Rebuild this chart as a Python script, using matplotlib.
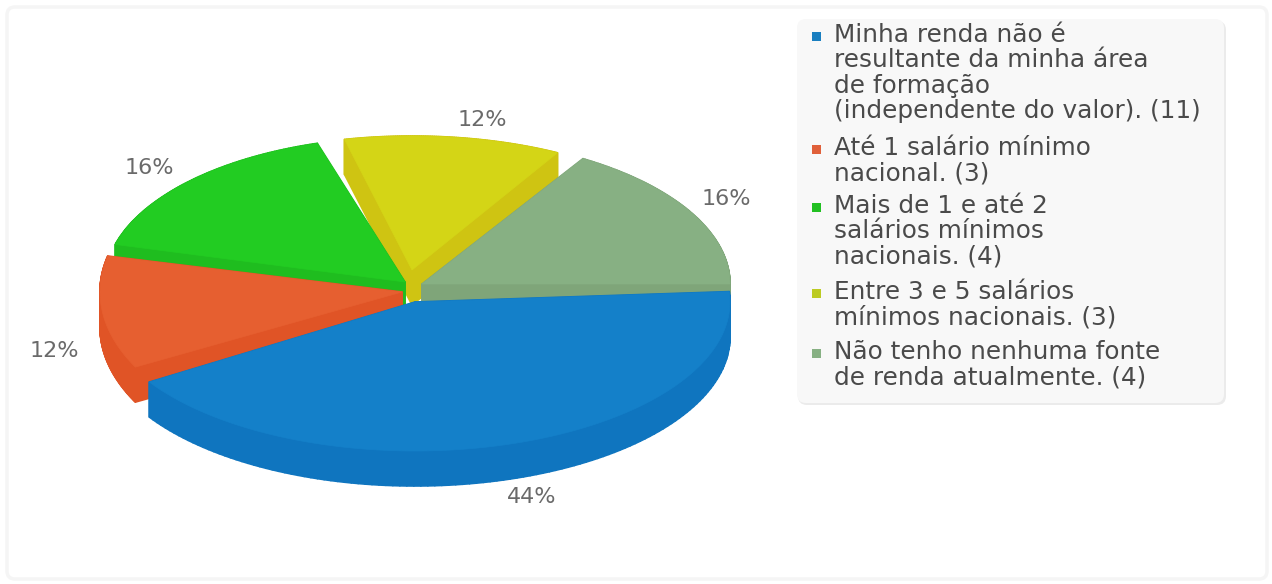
#!/usr/bin/env python3
"""
Pie 3D com fatias destacadas - fontes de renda
"""

import numpy as np
import matplotlib
matplotlib.use('Agg')
import matplotlib.pyplot as plt
from matplotlib.patches import FancyBboxPatch, Polygon, Rectangle
from matplotlib.collections import PolyCollection

# dados
labels = [
    "Minha renda não é\nresultante da minha área\nde formação\n(independente do valor). (11)",
    "Até 1 salário mínimo\nnacional. (3)",
    "Mais de 1 e até 2\nsalários mínimos\nnacionais. (4)",
    "Entre 3 e 5 salários\nmínimos nacionais. (3)",
    "Não tenho nenhuma fonte\nde renda atualmente. (4)",
]
values = [11, 3, 4, 3, 4]

# estilo de cada fatia, na ordem dos dados
top_colors = ['#1480c9', '#e65f30', '#22cc22', '#d4d516', '#87b083']
side_colors = ['#0f75bf', '#e05426', '#1fbd1f', '#cfc412', '#7fa579']
legend_colors = ['#1a7fc0', '#e0603a', '#22c022', '#bccb22', '#87b083']
apex = [(415, 302), (402, 292), (405, 282), (412, 270), (422, 284)]
radii = [(315, 149), (302, 160), (300, 145), (300, 134), (308, 147)]
# a projecao do original desloca um pouco os angulos
angle_shift = [(-4, -10.9), (-6.4, -8.6), (-6.6, -6.2), (-2.2, -3.4), (-0.9, 0)]
label_pos = [(532, 497), (54, 351), (149, 168), (482, 120), (726, 199)]
legend_y = [36, 149, 207, 293, 353]
draw_order = [3, 2, 4, 1, 0]
DEPTH = 35

fig = plt.figure(figsize=(12.72, 5.84), dpi=100)
ax = fig.add_axes([0, 0, 1, 1])
ax.set_xlim(0, 1272)
ax.set_ylim(584, 0)
ax.axis('off')

# moldura
ax.add_patch(FancyBboxPatch((7, 7), 1260, 572, boxstyle='round,pad=0,rounding_size=8',
                            fc='white', ec='#f5f5f5', lw=2.5))


def wedge_outline(center, rx, ry, t0, t1):
    t = np.radians(np.linspace(t0, t1, 120))
    x = center[0] + rx * np.cos(t)
    y = center[1] + ry * np.sin(t)
    return np.vstack([[center], np.column_stack([x, y])])


total = sum(values)
edges = np.concatenate([[0], np.cumsum(values)]) / total * 360

for i in draw_order:
    t0 = edges[i] + angle_shift[i][0]
    t1 = edges[i + 1] + angle_shift[i][1]
    pts = wedge_outline(apex[i], radii[i][0], radii[i][1], t0, t1)

    # paredes: cada aresta do topo varrida para baixo
    low = pts + [0, DEPTH]
    nxt = np.roll(pts, -1, axis=0)
    nxt_low = np.roll(low, -1, axis=0)
    quads = np.stack([pts, nxt, nxt_low, low], axis=1)
    ax.add_collection(PolyCollection(quads, facecolors=side_colors[i], edgecolors=side_colors[i],
                                     linewidths=1.2, joinstyle='round'))
    ax.add_patch(Polygon(pts, closed=True, fc=top_colors[i], ec=top_colors[i], lw=0.5))

# rotulos de percentual
for i, v in enumerate(values):
    ax.text(label_pos[i][0], label_pos[i][1], f"{v / total * 100:.0f}%",
            ha='center', va='center', fontsize=16, color='#6a6a6a')

# legenda
ax.add_patch(FancyBboxPatch((798, 21), 428, 384, boxstyle='round,pad=0,rounding_size=9',
                            fc='#ebebeb', ec='none'))
ax.add_patch(FancyBboxPatch((797, 19), 427, 384, boxstyle='round,pad=0,rounding_size=9',
                            fc='#f8f8f8', ec='none'))
for i, lab in enumerate(labels):
    ax.add_patch(Rectangle((812, legend_y[i] - 4), 9, 9, fc=legend_colors[i], ec='none'))
    ax.text(834, legend_y[i] - 13, lab, ha='left', va='top', fontsize=17.8,
            color='#4a4a4a', linespacing=1.07)

fig.savefig('out.png', dpi=100)
